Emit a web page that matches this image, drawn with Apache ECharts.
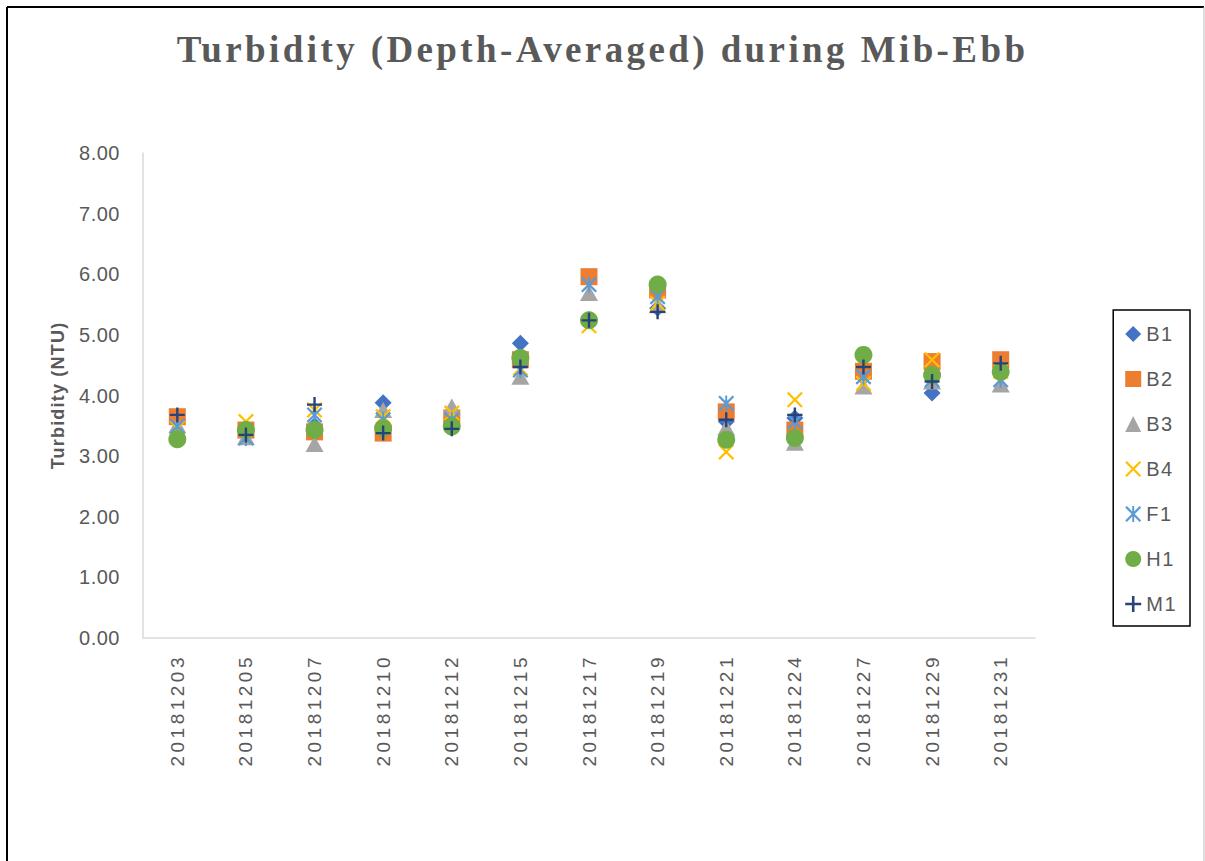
<!DOCTYPE html>
<html>
<head>
<meta charset="utf-8">
<title>Turbidity (Depth-Averaged) during Mib-Ebb</title>
<script src="https://cdn.jsdelivr.net/npm/echarts@6/dist/echarts.min.js"></script>
<style>
    html, body { margin: 0; padding: 0; background: #fff; }
    #main { width: 1205px; height: 861px; }
</style>
</head>
<body>
<div id="main"></div>
<script>
// sampling dates
var categories = ['20181203', '20181205', '20181207', '20181210', '20181212', '20181215', '20181217',
    '20181219', '20181221', '20181224', '20181227', '20181229', '20181231'];

// depth-averaged turbidity (NTU) per station
var B1 = [3.60, 3.40, 3.50, 3.88, 3.55, 4.86, 5.25, 5.44, 3.57, 3.63, 4.30, 4.04, 4.40];
var B2 = [3.65, 3.43, 3.40, 3.38, 3.63, 4.59, 5.96, 5.74, 3.73, 3.43, 4.40, 4.56, 4.59];
var B3 = [3.51, 3.31, 3.20, 3.76, 3.82, 4.31, 5.69, 5.49, 3.47, 3.22, 4.15, 4.23, 4.18];
var B4 = [3.46, 3.57, 3.76, 3.65, 3.71, 4.45, 5.15, 5.52, 3.07, 3.93, 4.20, 4.59, 4.40];
var F1 = [3.49, 3.30, 3.68, 3.60, 3.60, 4.42, 5.83, 5.63, 3.87, 3.57, 4.31, 4.26, 4.26];
var H1 = [3.28, 3.43, 3.43, 3.46, 3.49, 4.62, 5.24, 5.83, 3.27, 3.30, 4.67, 4.34, 4.39];
var M1 = [3.68, 3.35, 3.85, 3.38, 3.45, 4.47, 5.24, 5.38, 3.60, 3.68, 4.47, 4.23, 4.53];

var TEXT_COLOR = '#595959';
var FONT = '"Liberation Sans", Arial, sans-serif';

// marker shapes (Excel style)
var X_PATH = 'path://M0,10L10,0L50,40L90,0L100,10L60,50L100,90L90,100L50,60L10,100L0,90L40,50Z';
var STAR_PATH = 'path://M0,10L10,0L50,40L90,0L100,10L60,50L100,90L90,100L50,60L10,100L0,90L40,50Z M44,0H56V100H44Z';
var PLUS_PATH = 'path://M42,0H58V42H100V58H58V100H42V58H0V42H42Z';

/**
 * 生成一个散点系列
 */
function makeSeries(name, data, symbol, size, color) {
    return {
        name: name,
        type: 'scatter',
        data: data,
        symbol: symbol,
        symbolSize: size,
        itemStyle: { color: color, opacity: 1 },
        emphasis: { disabled: true }
    };
}

var chart = echarts.init(document.getElementById('main'), null, { renderer: 'svg' });

var option = {
    animation: false,
    backgroundColor: '#ffffff',
    title: {
        text: 'Turbidity (Depth-Averaged) during Mib-Ebb',
        left: 'center',
        top: 31,
        padding: 0,
        textStyle: {
            fontFamily: '"Liberation Serif", "Times New Roman", serif',
            fontWeight: 'bold',
            fontSize: 37,
            color: TEXT_COLOR
        }
    },
    legend: {
        orient: 'vertical',
        right: 15,
        top: 310,
        itemWidth: 16,
        itemHeight: 16,
        itemGap: 25,
        padding: [14, 16, 12, 12],
        borderColor: '#000000',
        borderWidth: 1.5,
        textStyle: { fontFamily: FONT, fontSize: 20, color: TEXT_COLOR },
        data: ['B1', 'B2', 'B3', 'B4', 'F1', 'H1', 'M1']
    },
    grid: { left: 143, right: 170, top: 153, bottom: 223 },
    xAxis: {
        type: 'category',
        data: categories,
        boundaryGap: true,
        axisLine: { lineStyle: { color: '#D9D9D9', width: 1.5 } },
        axisTick: { show: false },
        axisLabel: {
            rotate: 90,
            margin: 16,
            interval: 0,
            fontFamily: FONT,
            fontSize: 19,
            color: TEXT_COLOR
        },
        splitLine: { show: false }
    },
    yAxis: {
        type: 'value',
        min: 0,
        max: 8,
        interval: 1,
        name: 'Turbidity (NTU)',
        nameLocation: 'middle',
        nameGap: 76,
        nameTextStyle: { fontFamily: FONT, fontSize: 18, fontWeight: 'bold', color: TEXT_COLOR },
        axisLine: { show: true, lineStyle: { color: '#D9D9D9', width: 1.5 } },
        axisTick: { show: false },
        splitLine: { show: false },
        axisLabel: {
            margin: 23,
            fontFamily: FONT,
            fontSize: 20,
            color: TEXT_COLOR,
            formatter: function (v) { return v.toFixed(2); }
        }
    },
    graphic: [
        { type: 'line', shape: { x1: 7, y1: 7, x2: 1204, y2: 7 }, style: { stroke: '#000', lineWidth: 2 } },
        { type: 'line', shape: { x1: 7, y1: 7, x2: 7, y2: 861 }, style: { stroke: '#000', lineWidth: 2 } },
        { type: 'line', shape: { x1: 1204, y1: 7, x2: 1204, y2: 861 }, style: { stroke: '#BFBFBF', lineWidth: 1 } }
    ],
    series: [
        makeSeries('B1', B1, 'diamond', 17, '#4472C4'),
        makeSeries('B2', B2, 'rect', 17, '#ED7D31'),
        makeSeries('B3', B3, 'triangle', [18, 16], '#A5A5A5'),
        makeSeries('B4', B4, X_PATH, 16, '#FFC000'),
        makeSeries('F1', F1, STAR_PATH, 16, '#5B9BD5'),
        makeSeries('H1', H1, 'circle', 18, '#70AD47'),
        makeSeries('M1', M1, PLUS_PATH, 15, '#264478')
    ]
};

chart.setOption(option);

/**
 * 给 SVG 文字加字间距(参考图文字间距较宽)
 */
function spaceTexts() {
    var texts = document.querySelectorAll('#main svg text');
    for (var i = 0; i < texts.length; i++) {
        var t = texts[i];
        var s = t.textContent;
        if (/^\d{8}$/.test(s)) {
            t.setAttribute('letter-spacing', '3.5px');
        } else if (s.indexOf('Turbidity (Depth') === 0) {
            t.setAttribute('letter-spacing', '3.4px');
        } else if (s === 'Turbidity (NTU)') {
            t.setAttribute('letter-spacing', '1.2px');
        } else if (/^[BFHM]\d$/.test(s)) {
            t.setAttribute('letter-spacing', '1.5px');
        } else if (/^\d\.\d\d$/.test(s)) {
            t.setAttribute('letter-spacing', '0.5px');
        }
    }
}

chart.on('finished', spaceTexts);
setTimeout(spaceTexts, 100);
</script>
</body>
</html>
